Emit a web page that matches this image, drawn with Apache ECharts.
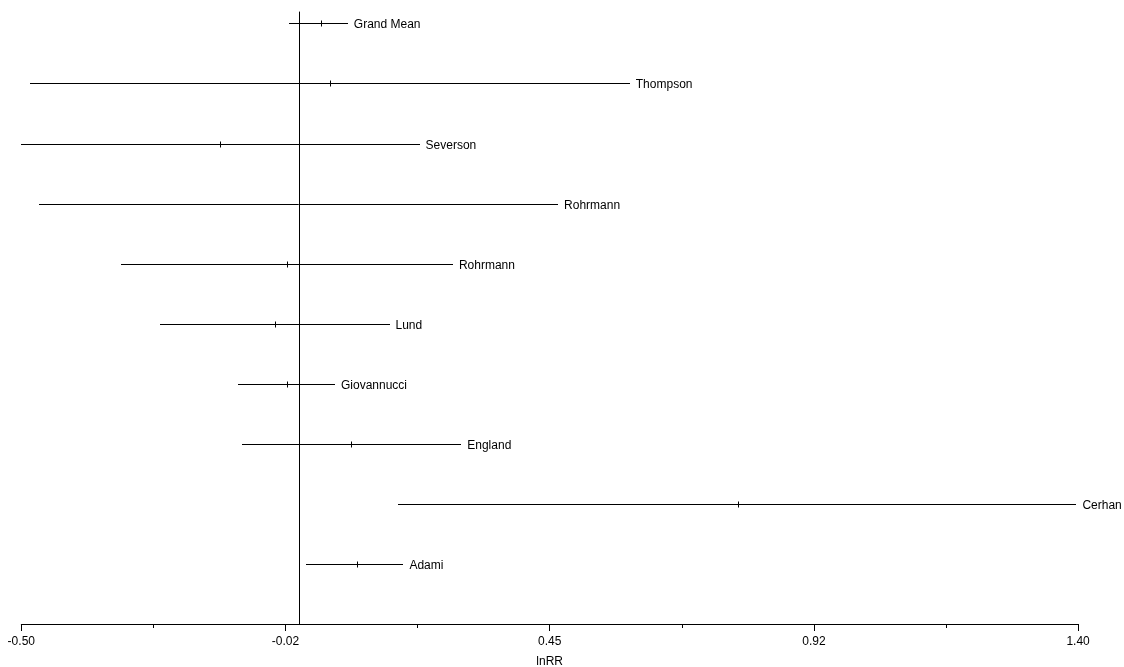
<!DOCTYPE html>
<html>
<head>
<meta charset="utf-8">
<script src="https://cdn.jsdelivr.net/npm/echarts@6/dist/echarts.min.js"></script>
<style>
html,body{margin:0;padding:0;background:#fff;}
#chart{width:1124px;height:667px;}
</style>
</head>
<body>
<div id="chart"></div>
<script>
// ---- data (top to bottom) ----
const studies = ["Grand Mean","Thompson","Severson","Rohrmann","Rohrmann","Lund","Giovannucci","England","Cerhan","Adami"];
const lowerCI = [-0.018,-0.484,-0.500,-0.469,-0.320,-0.251,-0.111,-0.104,0.178,0.012];
const meanRR  = [0.038,0.055,-0.143,0.000,-0.023,-0.043,-0.023,0.093,0.789,0.103];
const upperCI = [0.087,0.594,0.216,0.465,0.276,0.162,0.064,0.291,1.397,0.187];
const tickValues = [-0.5,-0.025,0.45,0.925,1.4];
const tickLabels = ["-0.50","-0.02","0.45","0.92","1.40"];
const minorTickValues = [-0.2625,0.2125,0.6875,1.1625];

const FONT = "Liberation Sans, Arial, sans-serif";
const n = studies.length;
const seriesData = studies.map((s,i)=>[lowerCI[i], upperCI[i], meanRR[i], n - i]);

const chart = echarts.init(document.getElementById('chart'), null, {renderer:'canvas'});
const crisp = v => Math.round(v) + 0.5;

chart.setOption({
  backgroundColor:'#fff',
  animation:false,
  grid:{left:21.3, right:45.9, top:12, bottom:43, outerBoundsMode:'none', containLabel:false},
  xAxis:[{
    type:'value', min:-0.5, max:1.4,
    name:'lnRR', nameLocation:'middle', nameGap:32,
    nameTextStyle:{color:'#000', fontSize:12, fontFamily:FONT},
    axisLine:{show:true, onZero:false, lineStyle:{color:'#000', width:1}},
    axisTick:{show:true, length:7, customValues:tickValues, lineStyle:{color:'#000', width:1}},
    axisLabel:{show:true, margin:12, color:'#000', fontSize:12, fontFamily:FONT,
      customValues:tickValues,
      formatter:function(v){
        const k = tickValues.findIndex(t=>Math.abs(t-v)<1e-6);
        return k>=0 ? tickLabels[k] : '';
      }},
    splitLine:{show:false}
  },{
    type:'value', min:-0.5, max:1.4, position:'bottom',
    axisLine:{show:false, onZero:false},
    axisTick:{show:true, length:4, customValues:minorTickValues, lineStyle:{color:'#000', width:1}},
    axisLabel:{show:false},
    splitLine:{show:false}
  }],
  yAxis:{
    type:'value', min:0, max:10.19,
    axisLine:{show:true, onZero:true, lineStyle:{color:'#000', width:1}},
    axisTick:{show:false}, axisLabel:{show:false}, splitLine:{show:false}
  },
  series:[{
    type:'custom',
    xAxisIndex:0, yAxisIndex:0,
    clip:false,
    data:seriesData,
    renderItem:function(params, api){
      const y = api.value(3);
      const lo = api.coord([api.value(0), y]);
      const hi = api.coord([api.value(1), y]);
      const m = api.coord([api.value(2), y]);
      const yy = crisp(lo[1]);
      const mx = crisp(m[0]);
      return {
        type:'group',
        children:[
          {type:'line', shape:{x1:Math.round(lo[0]), y1:yy, x2:Math.round(hi[0]), y2:yy},
           style:{stroke:'#000', lineWidth:1}},
          {type:'line', shape:{x1:mx, y1:yy-3, x2:mx, y2:yy+3},
           style:{stroke:'#000', lineWidth:1}},
          {type:'text', style:{text:studies[params.dataIndex], x:hi[0]+6, y:yy+1,
            verticalAlign:'middle', align:'left', fill:'#000', fontSize:12, fontFamily:FONT}}
        ]
      };
    }
  }]
});
</script>
</body>
</html>
